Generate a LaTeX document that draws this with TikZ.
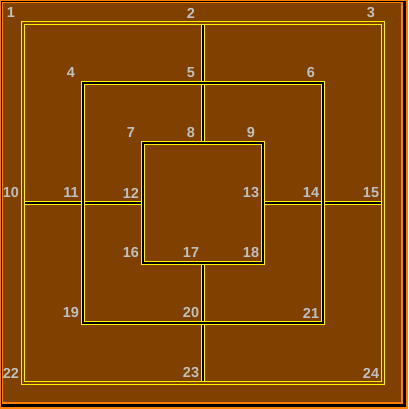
\documentclass[tikz,border=0pt]{standalone}
\usepackage{fontspec}
\setmainfont{Liberation Sans}

\definecolor{boardbrown}{RGB}{128,64,0}
\definecolor{frameorange}{RGB}{255,128,0}
\definecolor{numgray}{RGB}{192,192,192}

\begin{document}
\begin{tikzpicture}[x=1pt, y=-1pt,
    every node/.style={font=\fontsize{14.5}{15}\selectfont\bfseries, text=numgray, inner sep=0pt},
    outerring/.style={draw=yellow, line width=1pt, double=boardbrown, double distance=2pt},
    ring/.style={draw=yellow, line width=1pt, double=black, double distance=2pt},
    link/.style={draw=yellow, line width=1pt, double=black, double distance=2pt}
  ]
    \useasboundingbox (0,0) rectangle (408,409);

    % Rahmen
    \fill[frameorange] (0,0) rectangle (408,409);
    \fill[black] (1,1) rectangle (406,407);
    \fill[frameorange] (2,2) rectangle (403,404);
    \fill[boardbrown] (3,3) rectangle (401,402);

    % Punkte
    \coordinate (p1) at (23,23);
    \coordinate (p2) at (203,23);
    \coordinate (p3) at (383,23);
    \coordinate (p4) at (83,83);
    \coordinate (p5) at (203,83);
    \coordinate (p6) at (323,83);
    \coordinate (p7) at (143,143);
    \coordinate (p8) at (203,143);
    \coordinate (p9) at (263,143);
    \coordinate (p10) at (23,203);
    \coordinate (p11) at (83,203);
    \coordinate (p12) at (143,203);
    \coordinate (p13) at (263,203);
    \coordinate (p14) at (323,203);
    \coordinate (p15) at (383,203);
    \coordinate (p16) at (143,263);
    \coordinate (p17) at (203,263);
    \coordinate (p18) at (263,263);
    \coordinate (p19) at (83,323);
    \coordinate (p20) at (203,323);
    \coordinate (p21) at (323,323);
    \coordinate (p22) at (23,383);
    \coordinate (p23) at (203,383);
    \coordinate (p24) at (383,383);

    % Verbindungen
    \draw[link] (p2) -- (p8);
    \draw[link] (p17) -- (p23);
    \draw[link] (p10) -- (p12);
    \draw[link] (p13) -- (p15);

    % Quadrate
    \draw[outerring] (p1) -- (p3) -- (p24) -- (p22) -- cycle;
    \draw[ring] (p4) -- (p6) -- (p21) -- (p19) -- cycle;
    \draw[ring] (p7) -- (p9) -- (p18) -- (p16) -- cycle;

    % Nummern
    \foreach \i in {1,...,24} {\path (p\i) ++(-12,-10) node (l\i) {\i};}
  \end{tikzpicture}
\end{document}
